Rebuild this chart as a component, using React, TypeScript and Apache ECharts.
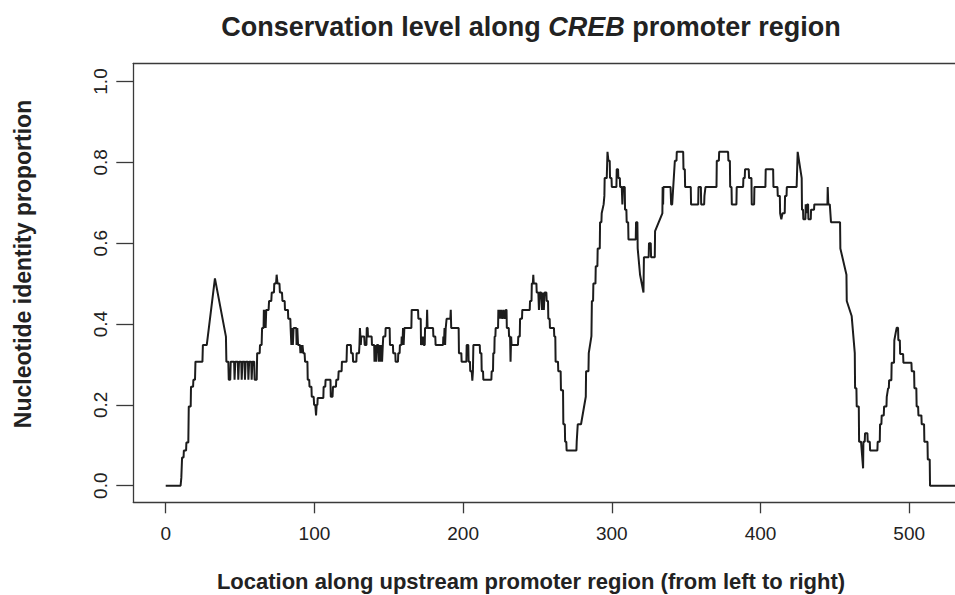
import React, { useEffect, useRef } from "react";
import * as echarts from "echarts";

const FONT = "'Liberation Sans', Arial, Helvetica, sans-serif";

const titleMain = "Conservation level along ";
const titleGene = "CREB";
const titleTail = " promoter region";
const xAxisTitle = "Location along upstream promoter region (from left to right)";
const yAxisTitle = "Nucleotide identity proportion";

const xTicks = [0, 100, 200, 300, 400, 500];
const yTicks = [0, 0.2, 0.4, 0.6, 0.8, 1.0];

// [location, identity proportion] vertices
const segmentA: [number, number][] = [
  [0, 0], [10, 0], [10.5, 0.02], [11, 0.07], [12, 0.07], [12.2, 0.087], [13.7, 0.087], [13.9, 0.107], [15.2, 0.107],
  [15.5, 0.196], [16.8, 0.196], [17, 0.245], [18.4, 0.245], [18.6, 0.262], [19.7, 0.262], [20, 0.307], [24.7, 0.307],
  [25, 0.348], [27.6, 0.348], [33.1, 0.513], [40.5, 0.369], [40.8, 0.307], [42.1, 0.307], [42.4, 0.262], [43.4, 0.262],
  [43.7, 0.307], [46, 0.307], [46.3, 0.262], [46.8, 0.307], [48.5, 0.307], [48.8, 0.262], [49.3, 0.307], [50.8, 0.307],
  [51.1, 0.262], [51.6, 0.307], [53, 0.307], [53.3, 0.262], [53.8, 0.307], [55.3, 0.307], [55.6, 0.262], [56.1, 0.307],
  [57.5, 0.307], [57.8, 0.262], [58.3, 0.307], [59.5, 0.307], [59.8, 0.262], [61.2, 0.262], [61.5, 0.328], [63.2, 0.328],
  [63.4, 0.348], [64.5, 0.348], [64.8, 0.39],
  [65.8, 0.39], [66, 0.435], [66.4, 0.39], [66.8, 0.435], [67.2, 0.39], [67.6, 0.435], [69.2, 0.435], [69.5, 0.457],
  [71, 0.457], [71.3, 0.478], [72.8, 0.478], [73, 0.5], [74.2, 0.5], [74.6, 0.522], [75.2, 0.5], [76.5, 0.5],
  [76.8, 0.478], [78.2, 0.478], [78.5, 0.457], [80, 0.457], [80.2, 0.435], [82.2, 0.435], [82.4, 0.413], [83.8, 0.413],
  [84, 0.39], [84.5, 0.348], [85, 0.39], [85.5, 0.348], [86, 0.39], [87.8, 0.39], [88, 0.348], [88.5, 0.39], [89, 0.348],
  [90.3, 0.348], [90.6, 0.328], [91, 0.348], [91.5, 0.328], [92, 0.348], [92.5, 0.328], [93.4, 0.328], [93.7, 0.307],
  [95.3, 0.307], [95.5, 0.262], [96.5, 0.262], [96.7, 0.245], [98, 0.245], [98.2, 0.22], [99.5, 0.22], [99.8, 0.2],
  [100.6, 0.2], [101.1, 0.174], [101.5, 0.2], [102, 0.2], [102.2, 0.217], [106, 0.217], [106.2, 0.245], [107.3, 0.245],
  [107.5, 0.262], [110.8, 0.262], [111, 0.22], [112.2, 0.22], [112.5, 0.245], [114.5, 0.245], [114.7, 0.262], [116, 0.262],
  [116.3, 0.283], [118.3, 0.283], [118.5, 0.307], [121.6, 0.307], [121.9, 0.348], [124.5, 0.348], [124.7, 0.328],
  [125.8, 0.328], [126, 0.307], [128.2, 0.307], [128.4, 0.328], [130, 0.328], [130.3, 0.348], [130.6, 0.39],
  [131.2, 0.348], [131.5, 0.369], [133.5, 0.369], [133.8, 0.348], [135, 0.348], [135.2, 0.391], [135.8, 0.39],
  [136, 0.369], [138.5, 0.369],
];

const segmentB: [number, number][] = [
  [138.7, 0.348], [140.2, 0.348], [140.4, 0.307], [141, 0.348], [141.5, 0.307], [142, 0.348], [143, 0.348], [143.3, 0.307],
  [143.8, 0.348], [144.5, 0.307], [145, 0.348], [145.5, 0.307], [146, 0.348], [146.3, 0.369], [147.7, 0.369], [147.9, 0.39],
  [150.6, 0.39], [150.8, 0.348], [152.8, 0.348], [153, 0.328], [154.4, 0.328], [154.6, 0.307], [156.2, 0.307],
  [156.4, 0.328], [157.3, 0.328], [157.5, 0.348], [158.5, 0.348], [158.7, 0.369], [159.2, 0.348], [159.6, 0.39],
  [160, 0.348], [160.5, 0.39], [165.2, 0.39], [165.4, 0.435], [169.7, 0.435], [169.9, 0.413], [171.5, 0.413],
  [171.7, 0.348], [172.2, 0.369], [172.6, 0.348], [173, 0.369], [173.5, 0.348], [174.2, 0.348], [174.4, 0.39],
  [175.5, 0.39], [175.8, 0.435], [176.1, 0.39], [179.8, 0.39], [180, 0.369], [181.3, 0.369], [181.5, 0.348],
  [186.5, 0.348], [186.7, 0.369], [187.1, 0.348], [187.5, 0.39], [187.9, 0.348], [188.3, 0.39], [188.7, 0.39],
  [188.9, 0.413], [191.4, 0.413], [191.7, 0.435], [192, 0.39], [197, 0.39], [197.2, 0.328], [198.8, 0.328], [199, 0.307],
  [202.2, 0.307], [202.4, 0.348], [203.5, 0.348], [203.7, 0.307], [204.6, 0.307], [204.8, 0.283], [205.8, 0.283],
  [206.2, 0.26], [206.6, 0.283], [206.9, 0.348], [211.2, 0.348], [211.4, 0.328], [212.3, 0.328], [212.5, 0.283],
  [213.4, 0.283], [213.6, 0.262], [219, 0.262], [219.2, 0.283], [220.1, 0.283], [220.3, 0.328], [221, 0.328],
  [221.2, 0.369], [221.7, 0.369], [221.9, 0.39], [223.5, 0.39], [223.7, 0.435], [224.2, 0.413], [224.7, 0.435],
  [225.2, 0.413], [225.7, 0.435], [226.5, 0.413], [227.2, 0.435], [228, 0.413], [228.7, 0.435], [229.2, 0.435],
  [229.4, 0.39], [230.7, 0.39], [230.9, 0.369], [231.6, 0.369], [231.9, 0.307], [232.3, 0.369], [232.6, 0.348],
  [236.9, 0.348], [237.1, 0.369], [238.1, 0.369], [238.3, 0.413], [239.6, 0.413], [239.8, 0.435], [244.8, 0.435],
  [245, 0.457], [246, 0.457], [246.2, 0.5], [246.9, 0.5], [247.2, 0.522], [247.5, 0.5], [249.3, 0.5], [249.5, 0.478],
  [250.6, 0.478], [251, 0.435], [251.5, 0.478], [252.5, 0.478], [253, 0.435], [253.5, 0.478], [254.3, 0.435],
  [254.8, 0.478], [256, 0.478], [256.2, 0.457], [257.1, 0.457], [257.3, 0.413], [258.2, 0.413], [258.4, 0.39],
  [261.1, 0.39], [261.3, 0.369], [262, 0.369], [262.2, 0.307], [263.8, 0.307], [264, 0.283], [265.6, 0.283],
  [265.8, 0.236], [267.2, 0.236], [267.4, 0.152], [268.4, 0.152], [268.6, 0.109], [269.4, 0.109], [269.6, 0.087],
  [276.2, 0.087], [276.4, 0.109], [277.1, 0.152],
];

const segmentC: [number, number][] = [
  [279.3, 0.152], [282.5, 0.22], [282.7, 0.283], [284.3, 0.283], [284.5, 0.328], [286.3, 0.37], [286.6, 0.457],
  [287.4, 0.457], [287.6, 0.5], [289, 0.5], [289.2, 0.543], [290.3, 0.543], [290.5, 0.587], [291.9, 0.587],
  [292.1, 0.652], [293, 0.652], [293.2, 0.674], [294.5, 0.696], [295, 0.717], [295.2, 0.761], [296.6, 0.761],
  [297.1, 0.826], [297.5, 0.826], [297.7, 0.804], [298.6, 0.804], [298.8, 0.761], [299.8, 0.761], [300, 0.739],
  [303.1, 0.739], [303.3, 0.783], [304.2, 0.783], [304.4, 0.761], [305.4, 0.761], [305.6, 0.739], [306.7, 0.739],
  [307.1, 0.696], [307.5, 0.739], [308.7, 0.739], [308.9, 0.683], [309.8, 0.683], [310, 0.652], [311, 0.652],
  [311.2, 0.609], [316.1, 0.609], [316.3, 0.652], [317.2, 0.652], [317.4, 0.587], [319, 0.522], [321.3, 0.478],
  [321.6, 0.565], [324.8, 0.565], [325, 0.6], [326.2, 0.6], [326.4, 0.565], [328.9, 0.565], [329.1, 0.63],
  [334, 0.674], [334.2, 0.739], [334.5, 0.696], [334.7, 0.739], [339.5, 0.739], [339.9, 0.696], [340.6, 0.696],
  [342.4, 0.804], [343.5, 0.804], [343.7, 0.826], [348, 0.826], [348.2, 0.783], [349.1, 0.783], [349.3, 0.739],
  [353.1, 0.739], [353.3, 0.696], [358.1, 0.696], [358.3, 0.739], [359.9, 0.739], [360.1, 0.696], [362.1, 0.696],
  [362.3, 0.717], [363, 0.739], [370.4, 0.739], [370.6, 0.804], [372, 0.804], [372.2, 0.826], [378.2, 0.826],
  [378.4, 0.804], [379.4, 0.804], [379.6, 0.739], [380.5, 0.739], [380.7, 0.696], [383.8, 0.696], [384, 0.739],
  [388.3, 0.739], [388.5, 0.761], [389.4, 0.761], [389.6, 0.783], [392.1, 0.783], [392.3, 0.761], [393.9, 0.761],
  [394.1, 0.696], [395.7, 0.696], [395.9, 0.739], [403.3, 0.739], [403.5, 0.783], [408.5, 0.783], [408.7, 0.739],
  [411.4, 0.739], [411.6, 0.717], [413, 0.717], [413.2, 0.674], [414, 0.659], [414.8, 0.674], [416.3, 0.674],
  [416.5, 0.717], [417.5, 0.717], [417.7, 0.739],
];

const segmentD: [number, number][] = [
  [424.3, 0.739], [425, 0.826], [425.3, 0.826], [427.7, 0.761], [427.9, 0.683], [428.6, 0.683], [428.8, 0.659],
  [430.2, 0.659], [430.4, 0.696], [430.9, 0.674], [431.4, 0.696], [432, 0.696], [432.2, 0.659], [433.8, 0.659],
  [434, 0.683], [436, 0.683], [436.2, 0.696], [445, 0.696], [445.2, 0.739], [445.6, 0.696], [446.6, 0.696],
  [447.4, 0.652], [453.5, 0.652], [453.7, 0.587], [457.8, 0.522], [458, 0.457], [461.3, 0.42], [463.4, 0.328],
  [463.6, 0.241], [464.5, 0.241], [464.7, 0.196], [466.1, 0.196], [466.3, 0.109], [467.6, 0.109], [469, 0.043],
  [469.2, 0.109], [470.1, 0.109], [470.3, 0.13], [471.9, 0.13], [472.1, 0.109], [473.5, 0.109], [473.7, 0.087],
  [478.6, 0.087], [478.8, 0.109], [480.2, 0.109], [480.4, 0.152], [481.3, 0.152], [481.5, 0.174], [482.9, 0.174],
  [483.1, 0.196], [484.7, 0.196], [484.9, 0.22], [485.8, 0.241], [486.3, 0.241], [486.5, 0.261], [488, 0.261],
  [488.2, 0.304], [489.8, 0.304], [490, 0.36], [491, 0.38], [491.6, 0.391], [492.5, 0.391], [492.7, 0.36],
  [493.7, 0.36], [493.9, 0.326], [495.9, 0.326], [496.1, 0.304], [501.5, 0.304], [501.7, 0.283], [503.3, 0.283],
  [503.5, 0.241], [504.8, 0.241], [505, 0.196], [506, 0.196], [506.2, 0.174], [508.2, 0.174], [508.4, 0.152],
  [510, 0.152], [510.2, 0.109], [512.3, 0.109], [512.5, 0.065], [513.8, 0.065], [514, 0], [531, 0],
];

const identityProfile = [...segmentA, ...segmentB, ...segmentC, ...segmentD];

export default function App() {
  const ref = useRef<HTMLDivElement>(null);

  useEffect(() => {
    if (!ref.current) return;
    const chart = echarts.init(ref.current, null, { renderer: "svg" });
    const axisColor = "#3a3a3a";
    const textColor = "#222222";
    chart.setOption({
      animation: false,
      backgroundColor: "#ffffff",
      textStyle: { fontFamily: FONT },
      grid: {
        left: 133.3,
        top: 63.3,
        right: 0,
        bottom: 92.7,
        containLabel: false,
        outerBoundsMode: "none",
      },
      xAxis: [
        {
          type: "value",
          position: "bottom",
          min: -21.8,
          max: 530.8,
          axisLine: { show: true, onZero: false, lineStyle: { color: axisColor, width: 1.3 } },
          axisTick: { show: true, customValues: xTicks, length: 11, lineStyle: { color: axisColor, width: 1.3 } },
          axisLabel: {
            show: true,
            customValues: xTicks,
            fontSize: 19,
            color: textColor,
            margin: 22,
            fontFamily: FONT,
          },
          splitLine: { show: false },
        },
        {
          type: "value",
          position: "top",
          min: -21.8,
          max: 530.8,
          axisLine: { show: true, onZero: false, lineStyle: { color: axisColor, width: 1.3 } },
          axisTick: { show: false },
          axisLabel: { show: false },
          splitLine: { show: false },
        },
      ],
      yAxis: {
        type: "value",
        min: -0.041,
        max: 1.045,
        axisLine: { show: true, onZero: false, lineStyle: { color: axisColor, width: 1.3 } },
        axisTick: { show: true, customValues: yTicks, length: 17, lineStyle: { color: axisColor, width: 1.3 } },
        axisLabel: {
          show: true,
          customValues: yTicks,
          rotate: 90,
          fontSize: 19,
          color: textColor,
          margin: 23,
          fontFamily: FONT,
          formatter: (v: number) => v.toFixed(1),
        },
        splitLine: { show: false },
      },
      series: [
        {
          type: "line",
          data: identityProfile,
          xAxisIndex: 0,
          yAxisIndex: 0,
          symbol: "none",
          showSymbol: false,
          clip: true,
          lineStyle: { color: "#1c1c1c", width: 2 },
        },
      ],
      graphic: [
        {
          type: "text",
          x: 531,
          y: 27,
          style: {
            text: `{n|${titleMain}}{i|${titleGene}}{n|${titleTail}}`,
            align: "center",
            verticalAlign: "middle",
            fill: textColor,
            rich: {
              n: { fontSize: 27, fontWeight: "bold", fontFamily: FONT, fill: textColor },
              i: { fontSize: 27, fontWeight: "bold", fontStyle: "italic", fontFamily: FONT, fill: textColor },
            },
          },
        },
        {
          type: "text",
          x: 531,
          y: 581,
          style: {
            text: xAxisTitle,
            align: "center",
            verticalAlign: "middle",
            fontSize: 22,
            fontWeight: "bold",
            fontFamily: FONT,
            fill: textColor,
          },
        },
        {
          type: "text",
          x: 23,
          y: 264,
          rotation: Math.PI / 2,
          style: {
            text: yAxisTitle,
            align: "center",
            verticalAlign: "middle",
            fontSize: 23,
            fontWeight: "bold",
            fontFamily: FONT,
            fill: textColor,
          },
        },
      ],
    });
    return () => chart.dispose();
  }, []);

  return (
    <div
      ref={ref}
      style={{ position: "fixed", left: 0, top: 0, width: 955, height: 595, background: "#ffffff" }}
    />
  );
}
